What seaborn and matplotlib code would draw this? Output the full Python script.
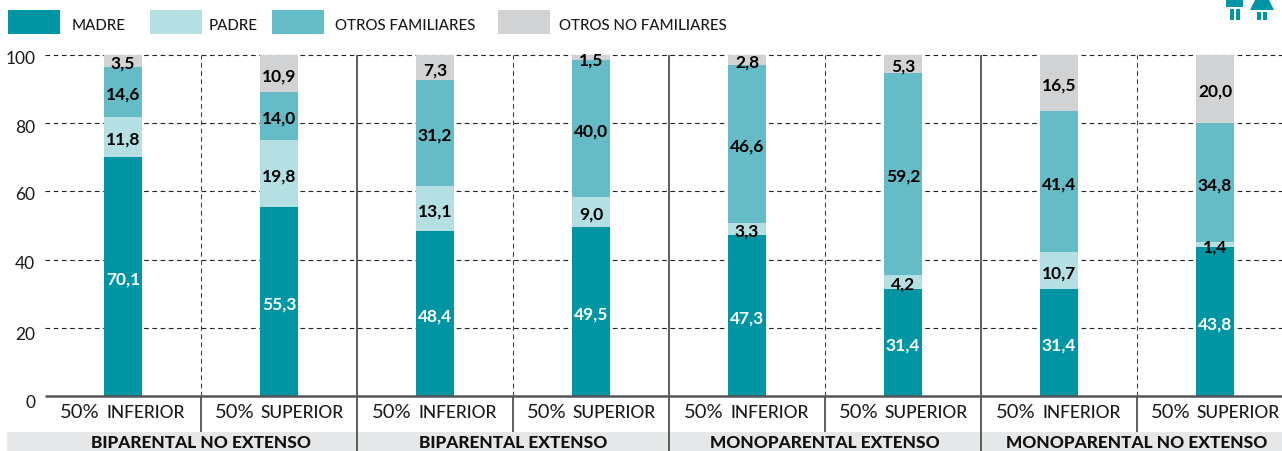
import matplotlib
matplotlib.use('Agg')
import matplotlib.pyplot as plt
import matplotlib.transforms as mtrans
from matplotlib.patches import Rectangle, Polygon
import pandas as pd
import seaborn as sns

sns.set_style('white')
plt.rcParams['font.family'] = ['Lato', 'DejaVu Sans']

columns = ['c1', 'c2', 'c3', 'c4', 'c5', 'c6', 'c7', 'c8']
madre = [70.1, 55.3, 48.4, 49.5, 47.3, 31.4, 31.4, 43.8]
padre = [11.8, 19.8, 13.1, 9.0, 3.3, 4.2, 10.7, 1.4]
otros_fam = [14.6, 14.0, 31.2, 40.0, 46.6, 59.2, 41.4, 34.8]
otros_no_fam = [3.5, 10.9, 7.3, 1.5, 2.8, 5.3, 16.5, 20.0]
series_names = ['MADRE', 'PADRE', 'OTROS FAMILIARES', 'OTROS NO FAMILIARES']
series_values = [madre, padre, otros_fam, otros_no_fam]
series_colors = ['#0095a3', '#b4e0e3', '#65bcc6', '#d1d2d4']
label_colors = ['white', 'black', 'black', 'black']
sub_big = ['50%'] * 8
sub_small = ['INFERIOR', 'SUPERIOR'] * 4
groups = ['BIPARENTAL NO EXTENSO', 'BIPARENTAL EXTENSO', 'MONOPARENTAL EXTENSO', 'MONOPARENTAL NO EXTENSO']
yticks = [0, 20, 40, 60, 80, 100]

W, H = 1282, 451
fig = plt.figure(figsize=(W / 100, H / 100), dpi=100)
# plot area: y=100 at px 55, y=0 at px 396
ax = fig.add_axes([45 / W, 1 - 396 / H, (W - 45) / W, (396 - 55) / H])

df = pd.DataFrame({'col': columns})
bottom = [0.0] * 8
for vals, col, lab_col in zip(series_values, series_colors, label_colors):
    df['v'] = vals
    sns.barplot(data=df, x='col', y='v', bottom=bottom, color=col, saturation=1,
                width=0.244, errorbar=None, ax=ax, zorder=3, linewidth=0)
    for i, v in enumerate(vals):
        # labels sit a little under the middle of each segment
        ax.annotate(f'{v:.1f}'.replace('.', ','), (i, bottom[i] + v / 2), xytext=(0, -2),
                    textcoords='offset points', color=lab_col, ha='center', va='center',
                    fontsize=12.5, fontweight='bold', zorder=5)
    bottom = [b + v for b, v in zip(bottom, vals)]

ax.set_xlim(-0.5, (W - 123) / 156)
ax.set_ylim(0, 100)
ax.set_xlabel('')
ax.set_ylabel('')
ax.set_xticks([])
ax.set_yticks(yticks)
ax.set_yticklabels([str(t) for t in yticks], fontsize=12.5, color='#1a1a1a')
ax.tick_params(axis='y', length=0, pad=7)
tick_dy = [5, 6, 3, 2, 3, 2]
for lab, dy in zip(ax.get_yticklabels(), tick_dy):
    lab.set_transform(lab.get_transform() + mtrans.ScaledTranslation(0, -dy / 100, fig.dpi_scale_trans))
for s in ['top', 'left', 'right', 'bottom']:
    ax.spines[s].set_visible(False)
for t in yticks[1:]:
    ax.axhline(t, color='#222222', lw=0.8, dashes=(4.2, 3.2), zorder=1, clip_on=False)
for i in range(7):
    if i % 2 == 0:
        ax.axvline(i + 0.5, color='#444444', lw=0.8, dashes=(4.2, 3.2), zorder=2)
    else:
        ax.axvline(i + 0.5, color='#333333', lw=1.1, zorder=2)

# everything outside the plot area, in reference pixels
ov = fig.add_axes([0, 0, 1, 1], facecolor='none')
ov.set_xlim(0, W)
ov.set_ylim(H, 0)
ov.axis('off')

ov.add_patch(Rectangle((7, 432), W - 7, 19, color='#e6e7e8', lw=0, zorder=1))
ov.plot([45, W], [396, 396], color='#555555', lw=1.8, zorder=4, solid_capstyle='butt')

for i in range(8):
    cx = 123 + 156 * i
    split = cx - 22 if i % 2 == 0 else cx - 23
    ov.text(split - 1, 413, sub_big[i], ha='right', va='center', fontsize=14.5, color='#1a1a1a')
    ov.text(split + 5, 413.5, sub_small[i], ha='left', va='center', fontsize=12.5,
            color='#1a1a1a', fontweight='medium')
    if i < 7:
        sep = cx + 78
        end = 451 if i % 2 == 1 else 432
        ov.plot([sep, sep], [396, end], color='#333333', lw=1.1, zorder=3, solid_capstyle='butt')

for j, name in enumerate(groups):
    cx = 201 + 312 * j if j < 3 else 1137
    ov.text(cx, 442.5, name, ha='center', va='center', fontsize=12.4, fontweight='black',
            color='#111111', zorder=5)

legend_x = [8, 150, 272, 498]
text_x = [72, 209, 335, 559]
for x0, tx, name, col in zip(legend_x, text_x, series_names, series_colors):
    ov.add_patch(Rectangle((x0, 10), 52, 24, color=col, lw=0))
    ov.text(tx, 26, name, ha='left', va='center', fontsize=10.8, fontweight='medium', color='#1a1a1a')

# little man and woman icon, cut by the top edge
icon = '#0095a3'
ov.add_patch(Rectangle((1226, 0), 17, 7, color=icon, lw=0))
ov.add_patch(Rectangle((1229.5, 9), 4.5, 11, color=icon, lw=0))
ov.add_patch(Rectangle((1235.5, 9), 4.5, 11, color=icon, lw=0))
ov.add_patch(Polygon([(1255, 0), (1269, 0), (1274, 10), (1250, 10)], color=icon, lw=0))
ov.add_patch(Rectangle((1257, 12), 4, 8, color=icon, lw=0))
ov.add_patch(Rectangle((1263, 12), 4, 8, color=icon, lw=0))

fig.savefig('out.png', dpi=100)
